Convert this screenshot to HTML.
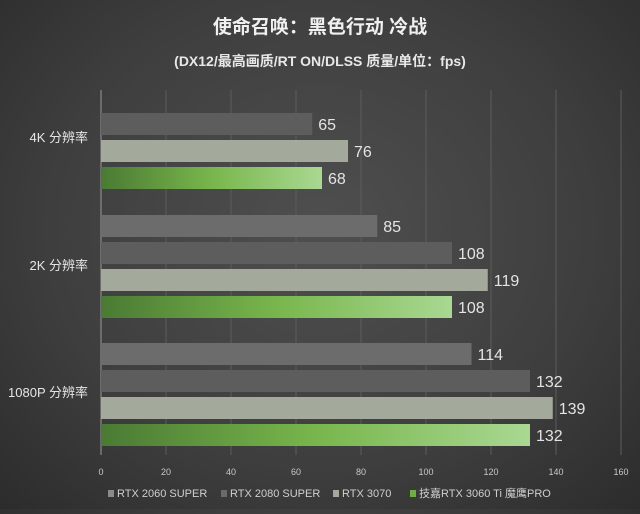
<!DOCTYPE html>
<html><head><meta charset="utf-8"><style>
body{margin:0;width:640px;height:509px;overflow:hidden;background:radial-gradient(ellipse at 50% 45%,#4f4f4f 0%,#3e3e3e 60%,#2c2c2c 100%);font-family:"Liberation Sans","Noto Sans CJK SC",sans-serif;}
</style></head><body>
<svg id="c" width="640" height="509" xmlns="http://www.w3.org/2000/svg">
<defs>
<linearGradient id="g" x1="0" x2="1" y1="0" y2="0"><stop offset="0" stop-color="#4a7a33"/><stop offset="0.5" stop-color="#78b64c"/><stop offset="1" stop-color="#a9d892"/></linearGradient>
</defs>
<text x="320" y="33" text-anchor="middle" fill="#f0f0f0" font-size="19" font-weight="bold">使命召唤：黑色行动 冷战</text>
<text x="320" y="66" text-anchor="middle" fill="#e8e8e8" font-size="14" font-weight="bold">(DX12/最高画质/RT ON/DLSS 质量/单位：fps)</text>
<g id="grid"></g><g id="bars"></g><g id="labels"></g><g id="legend"></g>
</svg>
<script>
const groups=["4K 分辨率","2K 分辨率","1080P 分辨率"];
const series=["RTX 2060 SUPER","RTX 2080 SUPER","RTX 3070","技嘉RTX 3060 Ti 魔鹰PRO"];
const s2060=[null,85,114];
const s2080=[65,108,132];
const s3070=[76,119,139];
const s3060ti=[68,108,132];
const ticks=[0,20,40,60,80,100,120,140,160];
const colors=["#6c6c6c","#5d5d5d","#a4aa9b","url(#g)"];
const legColors=["#8a8a8a","#6a6a6a","#a4aa9b","#6fae45"];
const NS="http://www.w3.org/2000/svg";
const x=v=>101+v*(520/160);
function mk(t,a,p){const e=document.createElementNS(NS,t);for(const k in a)e.setAttribute(k,a[k]);p.appendChild(e);return e;}
const grid=document.getElementById('grid');
ticks.forEach(t=>{
const l=mk('line',{x1:x(t),x2:x(t),y1:90,y2:455,stroke:t===0?'#9a9a9a':'#5c5c5c','stroke-width':1},grid);


const tx=mk('text',{x:x(t),y:475,'text-anchor':'middle',fill:'#c8c8c8','font-size':9},grid);tx.textContent=t;


});
const all=[s2060,s2080,s3070,s3060ti];
const groupTop=[113,215,343];
const labelY=[142,270,397];
const bh=22,step=27;
const bars=document.getElementById('bars'),labels=document.getElementById('labels');
groups.forEach((g,gi)=>{
const present=[];
all.forEach((s,si)=>{if(s[gi]!=null)present.push(si);});
present.forEach((si,ri)=>{
const v=all[si][gi];const y=groupTop[gi]+ri*step;
const r=mk('rect',{x:x(0),y:y,width:x(v)-x(0),height:bh,fill:colors[si]},bars);


const t=mk('text',{x:x(v)+6,y:y+bh/2+6,fill:'#e4e4e4','font-size':16},labels);t.textContent=v;


});
const gl=mk('text',{x:88,y:labelY[gi],'text-anchor':'end',fill:'#e6e6e6','font-size':13},labels);gl.textContent=g;


});
const leg=document.getElementById('legend');
const lx=[108,221,333,410];
series.forEach((s,i)=>{
const r=mk('rect',{x:lx[i],y:490,width:6,height:7,fill:legColors[i]},leg);


const t=mk('text',{x:lx[i]+9,y:497,fill:'#cfcfcf','font-size':11},leg);t.textContent=s;


});
</script>
</body></html>
